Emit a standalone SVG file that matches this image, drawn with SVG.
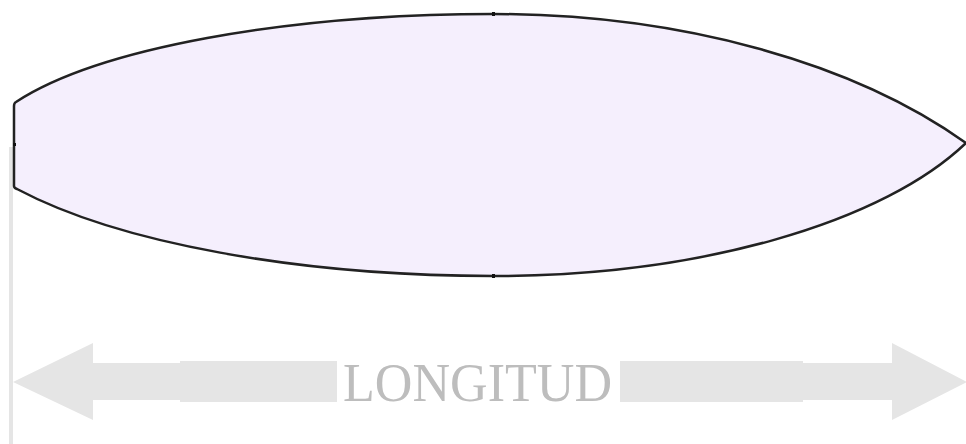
<svg xmlns="http://www.w3.org/2000/svg" width="966" height="444" viewBox="0 0 966 444">
<style>
.bar{fill:#e5e5e5}
.hull{fill:#f5effd;stroke:#222;stroke-width:2.5;stroke-linejoin:round}
</style>
<rect width="966" height="444" fill="#ffffff"/>
<g id="guide">
<rect class="bar" x="9" y="147" width="4" height="297"/>
</g>
<g id="shape">
<path class="hull" d="M14,186 L14,106 Q14,103 16,102 A520,145 0 0 1 493,14 A600,335 0 0 1 966,143 A520,227.5 0 0 1 493,276 A560,182 0 0 1 17,189 Q14,188 14,186 Z"/>
<rect x="492" y="12" width="3" height="4" fill="#111"/>
<rect x="492" y="274" width="3" height="4" fill="#111"/>
<rect x="13" y="143" width="3" height="3" fill="#111"/>
</g>
<g id="connectors">
<polygon class="bar" points="13,382 93,343 93,363 180,363 180,361 337,361 337,402 180,402 180,400 93,400 93,420"/>
<polygon class="bar" points="967,382 892,343 892,363 803,363 803,361 620,361 620,402 803,402 803,400 892,400 892,420"/>
</g>
<g id="label">
<text x="343" y="401" textLength="269" lengthAdjust="spacingAndGlyphs" font-family="'Liberation Serif', 'Times New Roman', serif" font-size="55" fill="#bdbdbd">LONGITUD</text>
</g>
</svg>
